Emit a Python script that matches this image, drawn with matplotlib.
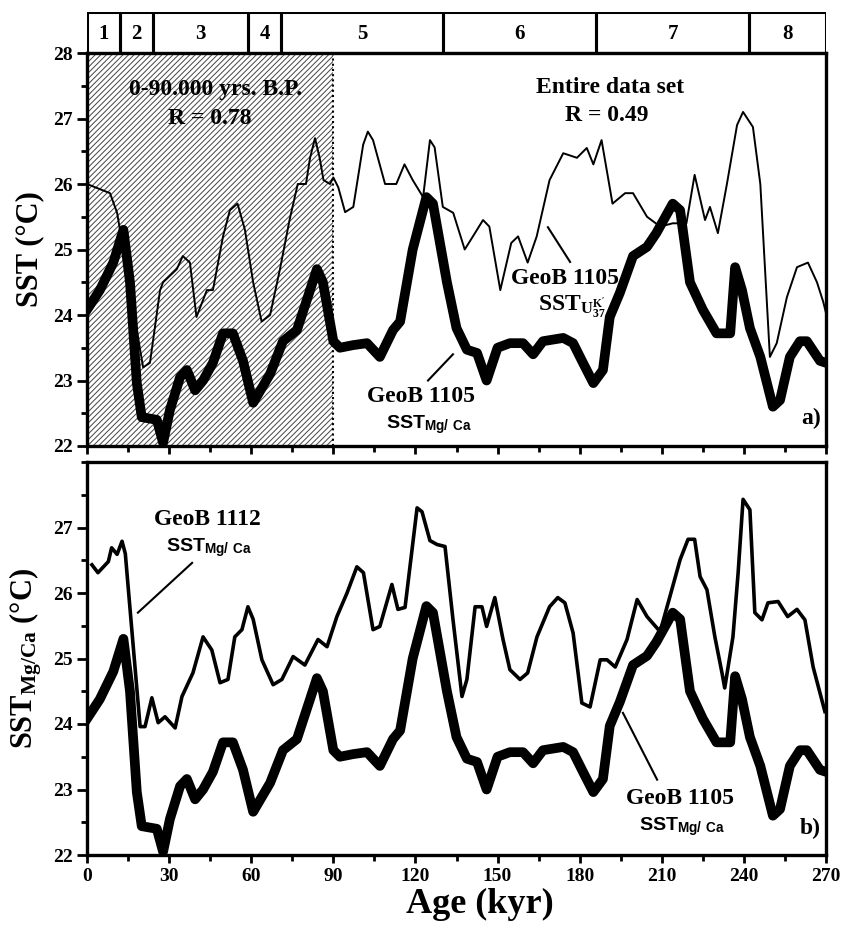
import numpy as np
import matplotlib
matplotlib.use("Agg")
import matplotlib.pyplot as plt
from matplotlib.patches import Rectangle

plt.rcParams['font.family'] = ['Liberation Serif', 'DejaVu Serif']
plt.rcParams['font.weight'] = 'bold'
plt.rcParams['mathtext.fontset'] = 'custom'
plt.rcParams['mathtext.rm'] = 'Liberation Serif:bold'
plt.rcParams['mathtext.bf'] = 'Liberation Serif:bold'
plt.rcParams['mathtext.sf'] = 'Liberation Sans:bold'
plt.rcParams['mathtext.default'] = 'rm'
plt.rcParams['hatch.color'] = '#444444'
plt.rcParams['hatch.linewidth'] = 0.7

# isotope stages
stage_bounds = [0, 12, 24, 59, 71, 130, 186, 242, 270]
stage_labels = ['1', '2', '3', '4', '5', '6', '7', '8']

# GeoB 1105 SST Mg/Ca (thick line, both panels)
mg1105_age = [0, 4.7, 9.6, 13.3, 15.7, 18.2, 20, 25.5, 27.8, 30.3, 34, 36.5, 39.5, 42.4, 46,
              49.7, 53.3, 57, 60.7, 66.9, 71.6, 76.7, 81.5, 84, 86.2, 90, 92.4, 97.2, 102.3,
              107, 111.8, 114.4, 119, 124, 126.4, 131.5, 135, 138.8, 142.5, 146, 150, 154.5,
              159.3, 163, 166.6, 174, 177.6, 181.2, 185, 188.5, 191, 194.7, 199.5, 204.6,
              208, 214, 216.7, 220.3, 225, 230, 235, 236.8, 239.3, 242.2, 246, 250.6, 253.2,
              256.8, 260.5, 263, 267.8, 270]
mg1105_sst = [24.08, 24.38, 24.8, 25.3, 24.5, 22.96, 22.44, 22.4, 22.05, 22.55, 23.05, 23.16,
              22.85, 23.0, 23.27, 23.72, 23.72, 23.3, 22.66, 23.1, 23.6, 23.77, 24.38, 24.7,
              24.5, 23.6, 23.5, 23.54, 23.57, 23.36, 23.77, 23.9, 25.0, 25.8, 25.7, 24.5, 23.8,
              23.47, 23.42, 23.0, 23.5, 23.57, 23.57, 23.4, 23.6, 23.65, 23.57, 23.27, 22.96,
              23.16, 23.97, 24.34, 24.9, 25.04, 25.25, 25.7, 25.6, 24.5, 24.08, 23.72, 23.72,
              24.73, 24.38, 23.8, 23.36, 22.6, 22.7, 23.36, 23.6, 23.6, 23.3, 23.27]

# GeoB 1105 SST Uk'37 (thin line, panel a)
uk1105_age = [0, 8.4, 11, 20.5, 23, 26.7, 27.8, 32.8, 35, 37.6, 40, 43.8, 46, 49.7, 52.2, 55,
              57.7, 60.7, 63.8, 66.9, 70.5, 74, 77, 80, 81.5, 83.3, 85, 86.4, 88.8, 90, 91.8,
              94.3, 97.3, 100.9, 102.6, 104.5, 108.9, 113, 116, 119, 122.8, 125.3, 127, 130,
              133.8, 138, 141, 144.7, 147, 151, 155, 157.5, 161, 164.3, 169, 174, 179, 182.6,
              185, 188, 192, 196.6, 199.5, 204.6, 209.4, 214, 219, 222, 225.8, 227.6, 230.5,
              233.8, 237.5, 239.7, 243.3, 246, 249.5, 252, 255.7, 259.4, 263.4, 266.7, 269, 270]
uk1105_sst = [26.0, 25.86, 25.56, 23.2, 23.27, 24.38, 24.5, 24.7, 24.9, 24.8, 23.97, 24.38,
              24.38, 25.2, 25.6, 25.7, 25.3, 24.5, 23.9, 24.0, 24.7, 25.45, 26.0, 26.0, 26.4,
              26.7, 26.4, 26.06, 26.0, 26.1, 25.95, 25.57, 25.65, 26.6, 26.8, 26.67, 26.0,
              26.0, 26.3, 26.06, 25.8, 26.67, 26.56, 25.65, 25.56, 25.0, 25.2, 25.45, 25.35,
              24.38, 25.1, 25.2, 24.8, 25.2, 26.06, 26.47, 26.4, 26.55, 26.3, 26.67, 25.7,
              25.86, 25.86, 25.5, 25.35, 25.4, 25.4, 26.14, 25.45, 25.65, 25.25, 26.0, 26.9,
              27.1, 26.87, 26.0, 23.36, 23.57, 24.27, 24.73, 24.8, 24.5, 24.2, 24.03]

# GeoB 1112 SST Mg/Ca (thin line, panel b)
mg1112_age = [1.8, 4, 7.8, 9, 11, 12.8, 14, 16.9, 19.4, 21.2, 23.7, 26, 28.5, 32.2, 34.7,
              38.7, 42.4, 45.6, 48.6, 51.5, 54, 56.6, 58.8, 60.7, 63.9, 68, 71.2, 75.3, 79.6,
              84.4, 87.7, 91.3, 95, 98.6, 101, 104.5, 107, 111.4, 113.6, 116.2, 120.6, 122.4,
              125.3, 127.9, 130.8, 133.7, 137, 138.8, 141.8, 144.3, 146, 149, 152, 154.5,
              158.2, 161, 164.4, 169, 172, 174.6, 177.6, 180.8, 183.8, 187.5, 190, 193, 197.3,
              201, 204.6, 209.4, 213, 216.7, 219.6, 222, 224, 226.5, 229.4, 232, 233, 236,
              237.9, 239.7, 242.2, 244, 246.6, 248.8, 252.5, 256, 259.4, 262.3, 265.3, 269.6]
mg1112_sst = [26.43, 26.31, 26.48, 26.69, 26.59, 26.79, 26.6, 25.18, 23.96, 23.96, 24.4, 24.02,
              24.11, 23.94, 24.42, 24.78, 25.33, 25.13, 24.63, 24.68, 25.33, 25.44, 25.79,
              25.6, 24.98, 24.6, 24.68, 25.03, 24.9, 25.29, 25.18, 25.64, 26.0, 26.4, 26.31,
              25.44, 25.49, 26.13, 25.75, 25.78, 27.3, 27.24, 26.8, 26.74, 26.71, 25.6, 24.42,
              24.68, 25.79, 25.79, 25.49, 25.93, 25.29, 24.83, 24.68, 24.78, 25.33, 25.79,
              25.93, 25.85, 25.39, 24.32, 24.26, 24.98, 24.98, 24.87, 25.29, 25.9, 25.64, 25.41,
              25.95, 26.51, 26.82, 26.82, 26.25, 26.05, 25.33, 24.78, 24.55, 25.33, 26.31,
              27.43, 27.27, 25.7, 25.59, 25.85, 25.87, 25.64, 25.75, 25.59, 24.87, 24.19]

W, H = 842, 925
fig = plt.figure(figsize=(W / 100, H / 100), dpi=100)


def frac(left, top, right, bottom):
    return [left / W, 1 - bottom / H, (right - left) / W, (bottom - top) / H]


ax_st = fig.add_axes(frac(87, 12, 826, 53))
ax_a = fig.add_axes(frac(87, 53, 826, 446))
ax_b = fig.add_axes(frac(87, 462, 826, 855))

# stage bar
for i, lab in enumerate(stage_labels):
    x0, x1 = stage_bounds[i], stage_bounds[i + 1]
    ax_st.add_patch(Rectangle((x0, 0), x1 - x0, 1, fill=False, lw=2.2, ec='black'))
    ax_st.text((x0 + x1) / 2, 0.47, lab, ha='center', va='center', fontsize=15, fontweight='bold')
ax_st.set_xlim(0, 270)
ax_st.set_ylim(0, 1)
ax_st.axis('off')

for ax in (ax_a, ax_b):
    ax.set_xlim(0, 270)
    ax.set_ylim(22, 28)
    ax.set_xticks(np.arange(0, 271, 30))
    ax.set_xticks(np.arange(0, 271, 15), minor=True)
    ax.tick_params(axis='both', which='both', direction='out', width=2, labelsize=14)
    ax.tick_params(axis='y', which='major', length=7)
    ax.tick_params(axis='y', which='minor', length=4)
    ax.tick_params(axis='x', which='major', length=6)
    ax.tick_params(axis='x', which='minor', length=4)
    ax.set_yticks(np.arange(22, 28.1, 0.5), minor=True)
    for s in ax.spines.values():
        s.set_linewidth(2.4)

TXT = dict(ha='center', va='center', zorder=6)

# panel a
ax_a.add_patch(Rectangle((0, 22), 90, 6, facecolor='white', edgecolor='#444444',
                         hatch='//////', lw=0, zorder=0))
ax_a.plot([90, 90], [22, 28], ls=(0, (1, 1.5)), color='black', lw=1.5, zorder=1)
ax_a.plot(uk1105_age, uk1105_sst, color='black', lw=1.4, zorder=2)
ax_a.plot(mg1105_age, mg1105_sst, color='black', lw=7, solid_joinstyle='round', zorder=3)
ax_a.set_yticks(np.arange(22, 28.1, 1))
ax_a.set_yticklabels([str(v) for v in range(22, 29)], fontweight='bold')
ax_a.set_xticklabels([])
ax_a.set_ylabel('SST (°C)', fontsize=22, fontweight='bold', labelpad=6)

ax_a.text(47, 27.45, '0-90.000 yrs. B.P.', fontsize=17, **TXT)
ax_a.text(45, 27.0, 'R = 0.78', fontsize=17, **TXT)
ax_a.text(191, 27.48, 'Entire data set', fontsize=17, **TXT)
ax_a.text(190, 27.05, 'R = 0.49', fontsize=17, **TXT)
ax_a.text(174.5, 24.55, 'GeoB 1105', fontsize=17, **TXT)
ax_a.text(177, 24.12, r"$\mathrm{SST}_{\mathrm{U}^{\mathrm{K'}}_{37}}$", fontsize=17, **TXT)
ax_a.plot([168.4, 176.5], [25.34, 24.81], color='black', lw=1.5)
ax_a.text(122, 22.75, 'GeoB 1105', fontsize=17, **TXT)
ax_a.text(125, 22.33, r'$\mathsf{SST}_{\mathsf{Mg/\ Ca}}$', fontsize=14, **TXT)
ax_a.plot([124.6, 133.7], [23.0, 23.4], color='black', lw=1.5)
ax_a.text(268, 22.42, 'a)', ha='right', va='center', fontsize=17, zorder=6)

# panel b
ax_b.plot(mg1112_age, mg1112_sst, color='black', lw=2.6, zorder=2)
ax_b.plot(mg1105_age, mg1105_sst, color='black', lw=7, solid_joinstyle='round', zorder=3)
ax_b.set_yticks(np.arange(22, 27.1, 1))
ax_b.set_yticklabels([str(v) for v in range(22, 28)], fontweight='bold')
ax_b.set_xticklabels([str(v) for v in range(0, 271, 30)], fontweight='bold')
ax_b.set_ylabel(r'$\mathrm{SST}_{\mathrm{Mg/Ca}}$ (°C)', fontsize=22, fontweight='bold',
                labelpad=6)
ax_b.text(0.532, -0.125, 'Age (kyr)', fontsize=26, fontweight='bold', ha='center',
          va='center', transform=ax_b.transAxes)

ax_b.text(44, 27.12, 'GeoB 1112', fontsize=17, **TXT)
ax_b.text(44.6, 26.69, r'$\mathsf{SST}_{\mathsf{Mg/\ Ca}}$', fontsize=14, **TXT)
ax_b.plot([18.6, 38.4], [25.7, 26.46], color='black', lw=1.5)
ax_b.text(216.7, 22.87, 'GeoB 1105', fontsize=17, **TXT)
ax_b.text(217.4, 22.43, r'$\mathsf{SST}_{\mathsf{Mg/\ Ca}}$', fontsize=14, **TXT)
ax_b.plot([195.8, 208.3], [24.17, 23.15], color='black', lw=1.5)
ax_b.text(268, 22.4, 'b)', ha='right', va='center', fontsize=17, zorder=6)

fig.savefig('out.png', dpi=100)
